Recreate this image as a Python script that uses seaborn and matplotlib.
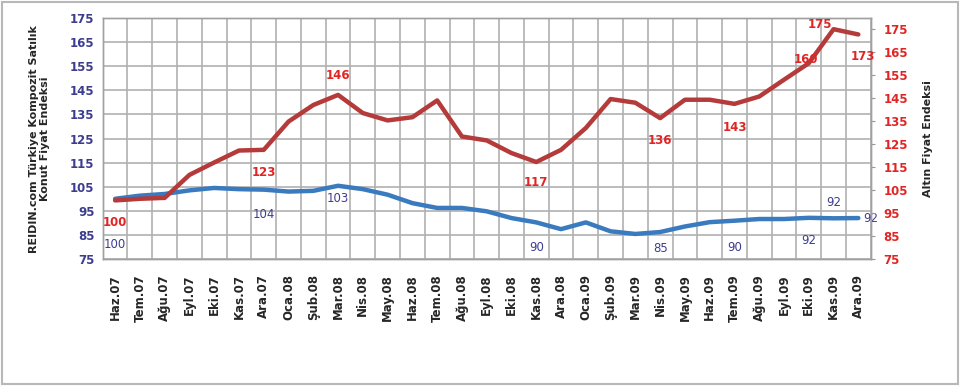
import pandas as pd
import matplotlib.pyplot as plt
import seaborn as sns

# Months (Haz.07 - Ara.09)
months = ['Haz.07', 'Tem.07', 'Ağu.07', 'Eyl.07', 'Eki.07', 'Kas.07', 'Ara.07',
          'Oca.08', 'Şub.08', 'Mar.08', 'Nis.08', 'May.08', 'Haz.08', 'Tem.08',
          'Ağu.08', 'Eyl.08', 'Eki.08', 'Kas.08', 'Ara.08',
          'Oca.09', 'Şub.09', 'Mar.09', 'Nis.09', 'May.09', 'Haz.09', 'Tem.09',
          'Ağu.09', 'Eyl.09', 'Eki.09', 'Kas.09', 'Ara.09']

# REIDIN housing index (left axis)
konut = [100, 101.3, 102, 103.5, 104.5, 104, 103.8, 103, 103.3, 105.4, 104,
         101.7, 98.2, 96.2, 96.2, 94.8, 92, 90.2, 87.4, 90.2, 86.5, 85.4,
         86.2, 88.5, 90.3, 90.9, 91.6, 91.6, 92.1, 91.9, 92]

# Gold price index (right axis)
altin = [100.5, 101.2, 101.6, 111.6, 117, 122.2, 122.5, 134.8, 142, 146.4,
         138.5, 135.3, 136.7, 144, 128.3, 126.6, 121.1, 117.2, 122.5, 132,
         144.6, 143, 136.3, 144.3, 144.3, 142.5, 145.7, 153, 160.2, 175, 172.7]

# value labels: (month index, text)
konut_labels = [(0, '100'), (6, '104'), (9, '103'), (17, '90'), (22, '85'),
                (25, '90'), (28, '92'), (29, '92'), (30, '92')]
altin_labels = [(0, '100'), (6, '123'), (9, '146'), (17, '117'), (22, '136'),
                (25, '143'), (28, '160'), (29, '175'), (30, '173')]

df = pd.DataFrame({'idx': range(len(months)), 'ay': months,
                   'konut': konut, 'altin': altin})

sns.set_style('white')
plt.rcParams['font.family'] = ['DejaVu Sans']

red = '#b53a3a'
blue = '#3a7abf'
red_txt = '#e02525'
blue_txt = '#3d3d8f'

fig = plt.figure(figsize=(9.6, 3.86), dpi=100)
ax = fig.add_axes([0.107, 0.329, 0.8, 0.624])
ax2 = ax.twinx()

sns.lineplot(data=df, x='idx', y='konut', ax=ax, color=blue, linewidth=3.2)
sns.lineplot(data=df, x='idx', y='altin', ax=ax2, color=red, linewidth=3.2)

ax.set_xlim(-0.5, len(months) - 0.5)
ax.set_ylim(75, 175)
ax2.set_ylim(75, 179.8)
ax.set_yticks(range(75, 176, 10))
ax2.set_yticks(range(75, 176, 10))

# grid: horizontal at left ticks, vertical at category boundaries
for v in range(75, 176, 10):
    ax.axhline(v, color='#b0b0b0', lw=1.2, zorder=0)
for i in range(len(months) + 1):
    ax.axvline(i - 0.5, color='#b0b0b0', lw=1.2, zorder=0)

ax.set_xticks(df['idx'])
ax.set_xticklabels(months, rotation=90, fontsize=8.5, fontweight='bold')
ax.tick_params(axis='x', length=0, pad=11)
ax.tick_params(axis='y', length=0, labelsize=8.5, labelcolor=blue_txt, pad=6)
ax2.tick_params(axis='y', length=3, labelsize=8.5, labelcolor=red_txt,
                color='#999999', pad=6)
for lab in ax.get_yticklabels() + ax2.get_yticklabels():
    lab.set_fontweight('bold')

ax.set_xlabel('')
ax.set_ylabel('REIDIN.com Türkiye Kompozit Satılık\nKonut Fiyat Endeksi',
              fontsize=8, fontweight='bold', labelpad=14)
ax2.set_ylabel('Altın Fiyat Endeksi', fontsize=8, fontweight='bold', labelpad=11)

for a in (ax, ax2):
    for s in a.spines.values():
        s.set_color('#a0a0a0')
        s.set_linewidth(1)

# annotation offsets in points
konut_off = {0: (0, -33), 6: (0, -18), 9: (0, -9), 17: (0, -18), 22: (0, -11.5),
             25: (0, -19), 28: (0, -16), 29: (0, 11.5), 30: (9, 0)}
altin_off = {0: (0, -16), 6: (0, -16), 9: (0, 14), 17: (0, -15), 22: (0, -16),
             25: (0, -17), 28: (-2, 3), 29: (-10, 3.5), 30: (3.5, -16)}

for i, t in konut_labels:
    ax.annotate(t, (i, konut[i]), xytext=konut_off[i], textcoords='offset points',
                ha='center', va='center', fontsize=8.5, color=blue_txt)
for i, t in altin_labels:
    ax2.annotate(t, (i, altin[i]), xytext=altin_off[i], textcoords='offset points',
                 ha='center', va='center', fontsize=8.5, color=red_txt,
                 fontweight='bold')

# outer frame
fig.patches.append(plt.Rectangle((0.002, 0.004), 0.996, 0.992, fill=False,
                                 edgecolor='#b8b8b8', lw=1.5,
                                 transform=fig.transFigure))

fig.savefig('out.png', dpi=100, facecolor='white')
